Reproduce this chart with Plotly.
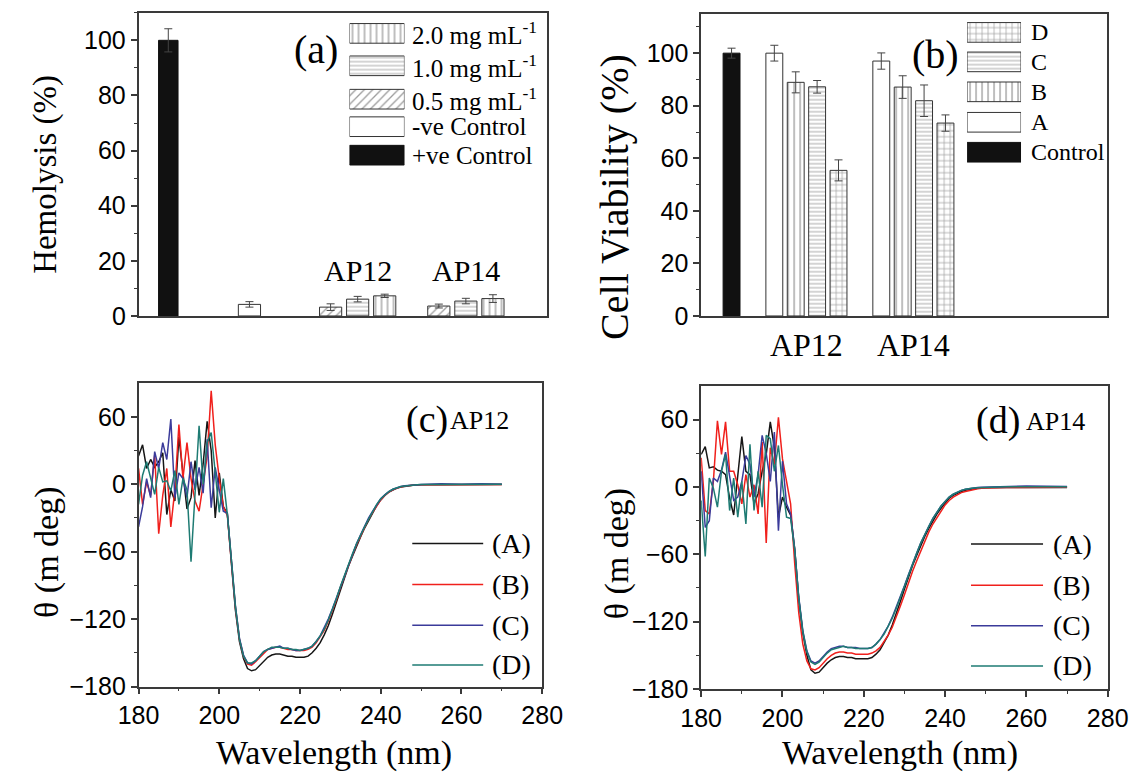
import plotly.graph_objects as go

W, H = 1148, 784
SERIF = "Liberation Serif"
SANS = "Liberation Sans"
AXC = "#3a3a3a"
EDGE = "#333333"

# ---------------- Panel (a): hemolysis ----------------
hemo_groups = ["AP12", "AP14"]
hemo_pos_ctrl = [100.0]
hemo_pos_ctrl_err = [4.2]
hemo_neg_ctrl = [4.2]
hemo_neg_ctrl_err = [1.0]
hemo_05 = [3.2, 3.6]
hemo_05_err = [1.2, 0.7]
hemo_10 = [6.1, 5.4]
hemo_10_err = [1.0, 1.0]
hemo_20 = [7.3, 6.3]
hemo_20_err = [0.6, 1.4]
hemo_legend = ["2.0 mg mL<sup>-1</sup>", "1.0 mg mL<sup>-1</sup>", "0.5 mg mL<sup>-1</sup>",
               "-ve Control", "+ve Control"]

# ---------------- Panel (b): cell viability ----------------
cell_groups = ["AP12", "AP14"]
cell_ctrl = [100.0]
cell_ctrl_err = [1.9]
cell_A = [100.0, 97.0]
cell_A_err = [3.0, 3.1]
cell_B = [88.9, 87.1]
cell_B_err = [4.0, 4.3]
cell_C = [87.2, 81.9]
cell_C_err = [2.4, 6.0]
cell_D = [55.4, 73.4]
cell_D_err = [4.0, 3.1]
cell_legend = ["D", "C", "B", "A", "Control"]

# ---------------- Panels (c), (d): CD spectra ----------------
cd_wl = list(range(180, 251)) + [255, 260, 265, 270]

ap12_A = [25, 35, 14, 22, 15, 20, 28, -27, -5, -15, 42, 10, -22, -12, 21, -10, 18, 56, 30, -30, 10, -20, -26,
          -70, -112, -140, -155, -164, -166, -165, -161, -157, -154, -152, -151, -151, -152, -153, -153,
          -154, -154, -154, -153, -150, -146, -141, -134, -126, -116, -105, -94, -83, -73, -64, -55,
          -47, -39, -32, -25, -19, -14, -10, -7, -5, -3.5, -2.5, -1.8, -1.2, -0.9, -0.7, -0.5,
          -0.4, -0.2, -0.3, -0.3]
ap12_B = [14, -18, 2, -10, 26, -44, -10, 14, -38, -5, 53, 5, 37, 5, -15, -24, 0, 25, 83, 35, 5, -20, -28,
          -68, -110, -138, -153, -160, -161, -158, -154, -150, -147, -146, -145, -145, -146, -147, -147,
          -148, -148, -148, -147, -145, -141, -136, -130, -122, -113, -103, -92, -82, -72, -63, -54,
          -46, -38, -31, -25, -19, -14, -10, -7, -5, -3.5, -2.4, -1.6, -1.1, -0.8, -0.5, -0.4,
          -0.3, 0.2, -0.1, -0.2]
ap12_C = [-38, -20, 5, -12, 29, 14, 37, 22, 58, -12, 10, 5, -12, 20, -5, 15, -8, 40, -21, 15, -5, -24, -26,
          -66, -108, -137, -152, -159, -160, -157, -153, -149, -147, -146, -145, -144, -146, -146, -147,
          -148, -148, -147, -146, -144, -140, -135, -128, -120, -111, -101, -91, -81, -71, -62, -53,
          -45, -37, -30, -24, -18, -13, -9.5, -6.5, -4.5, -3, -2, -1.4, -1, -0.6, -0.4, -0.3,
          0.4, -0.1, 0.3, 0.0]
ap12_D = [-18, 8, 20, 5, -9, 15, 2, 3, -6, 12, -18, 5, -5, -69, -10, 52, 0, 37, 46, 8, -25, 5, -27,
          -67, -109, -138, -153, -159, -159, -157, -153, -149, -147, -145, -145, -145, -146, -146, -147,
          -147, -148, -147, -146, -144, -140, -135, -129, -121, -112, -102, -91, -81, -71, -62, -53,
          -45, -38, -31, -24, -18, -13, -9.5, -6.5, -4.5, -3, -2, -1.5, -1, -0.7, -0.5, -0.3,
          -0.2, 0.1, -0.2, -0.1]

ap14_A = [29, 36, 17, 18, 15, 14, 11, -10, -25, 8, 45, 14, 11, -15, -6, 14, 29, 58, 35, -27, -9, -18, -25,
          -55, -100, -130, -150, -163, -166, -165, -161, -157, -154, -152, -151, -151, -152, -152, -153,
          -153, -153, -153, -152, -149, -145, -139, -132, -123, -113, -102, -91, -80, -70, -61, -52,
          -44, -37, -30, -24, -19, -14, -10, -7.5, -5.5, -4, -3, -2, -1.5, -1.1, -0.8, -0.6,
          -0.5, -0.6, -0.4, -0.5]
ap14_B = [26, -21, -24, 5, 59, 29, 58, 14, 14, 2, -15, 11, -9, 2, -24, 40, -50, 35, 20, 62, 25, 5, -15,
          -68, -112, -140, -155, -162, -163, -161, -157, -153, -150, -148, -147, -147, -148, -148, -149,
          -149, -149, -149, -148, -146, -143, -138, -132, -125, -116, -106, -96, -85, -75, -66, -57,
          -48, -40, -33, -27, -21, -16, -12, -9, -7, -5, -4, -3, -2.2, -1.6, -1.2, -0.9,
          -0.5, -0.3, -0.4, -0.3]
ap14_C = [14, -36, -30, 8, 5, 15, 31, 10, -12, -9, 5, 28, 20, -9, 11, 46, 30, 5, 49, -39, 23, -15, -24,
          -55, -98, -128, -146, -155, -157, -155, -151, -147, -144, -143, -142, -142, -143, -143, -143,
          -144, -144, -144, -143, -140, -136, -130, -124, -116, -107, -98, -88, -78, -68, -59, -50,
          -42, -35, -28, -22, -17, -13, -9, -6.5, -4.5, -3, -2, -1.3, -0.8, -0.5, -0.3, -0.2,
          0.5, 0.8, 0.6, 0.4]
ap14_D = [-12, -62, 8, -1, -18, 14, 29, -21, 8, -27, 5, -33, 38, -21, 14, -18, 46, 43, 14, 37, 2, -27, -28,
          -56, -99, -129, -147, -156, -158, -156, -152, -148, -145, -144, -143, -142, -143, -143, -144,
          -144, -144, -144, -143, -140, -136, -131, -124, -117, -108, -98, -88, -78, -68, -59, -50,
          -42, -35, -28, -22, -17, -13, -9, -6.5, -4.5, -3, -2, -1.3, -0.9, -0.6, -0.4, -0.3,
          0.2, 0.3, 0.1, 0.2]

cd_labels = ["(A)", "(B)", "(C)", "(D)"]
cd_colors = ["#161616", "#f0201c", "#3b3b9a", "#1e7b73"]

for s in (ap12_A, ap12_B, ap12_C, ap12_D, ap14_A, ap14_B, ap14_C, ap14_D):
    assert len(s) == len(cd_wl), len(s)

# ---------------- layout geometry (pixels) ----------------
def px(x):
    return x / W

def py(y):
    return 1 - y / H

PANEL = {
    "a": (122, 546, 13, 321.7),
    "b": (706, 1127, 14, 321.7),
    "c": (122, 541, 390, 699),
    "d": (706, 1128, 393, 701.5),
}

fig = go.Figure()

ERR = dict(type="data", visible=True, color="#444444", thickness=1, width=4)


def bar_marker(kind):
    base = dict(line=dict(color=EDGE, width=1))
    if kind == "solid":
        base["color"] = "#111111"
        base["line"] = dict(color="#111111", width=1)
    elif kind == "blank":
        base["color"] = "white"
    else:
        shp, size = {"diag": ("/", 6), "horiz": ("-", 4), "vert": ("|", 6), "grid": ("+", 6)}[kind]
        base["color"] = "white"
        base["pattern"] = dict(shape=shp, size=size, solidity=0.22, fgcolor="#3a3a3a",
                               bgcolor="white", fillmode="overlay")
    return base

# ---- (a) bars
a_ctrl_pos = [1]
a_neg_pos = [4]
a_group_centers = [8, 12]
a_offsets = [-1, 0, 1]
BW_A = 0.82
fig.add_trace(go.Bar(x=a_ctrl_pos, y=hemo_pos_ctrl, width=0.72, marker=bar_marker("solid"),
                     error_y=dict(ERR, array=hemo_pos_ctrl_err), xaxis="x", yaxis="y"))
fig.add_trace(go.Bar(x=a_neg_pos, y=hemo_neg_ctrl, width=BW_A, marker=bar_marker("blank"),
                     error_y=dict(ERR, array=hemo_neg_ctrl_err), xaxis="x", yaxis="y"))
for off, vals, errs, kind in zip(a_offsets, [hemo_05, hemo_10, hemo_20],
                                 [hemo_05_err, hemo_10_err, hemo_20_err], ["diag", "horiz", "vert"]):
    fig.add_trace(go.Bar(x=[c + off for c in a_group_centers], y=vals, width=BW_A,
                         marker=bar_marker(kind), error_y=dict(ERR, array=errs),
                         xaxis="x", yaxis="y"))

# ---- (b) bars
b_ctrl_pos = [1]
b_group_centers = [4.5, 9.5]
b_offsets = [-1.5, -0.5, 0.5, 1.5]
BW_B = 0.79
fig.add_trace(go.Bar(x=b_ctrl_pos, y=cell_ctrl, width=BW_B, marker=bar_marker("solid"),
                     error_y=dict(ERR, array=cell_ctrl_err), xaxis="x2", yaxis="y2"))
for off, vals, errs, kind in zip(b_offsets, [cell_A, cell_B, cell_C, cell_D],
                                 [cell_A_err, cell_B_err, cell_C_err, cell_D_err],
                                 ["blank", "vert", "horiz", "grid"]):
    fig.add_trace(go.Bar(x=[c + off for c in b_group_centers], y=vals, width=BW_B,
                         marker=bar_marker(kind), error_y=dict(ERR, array=errs),
                         xaxis="x2", yaxis="y2"))

# ---- (c), (d) lines
for series, xa, ya in (((ap12_A, ap12_B, ap12_C, ap12_D), "x3", "y3"),
                       ((ap14_A, ap14_B, ap14_C, ap14_D), "x4", "y4")):
    for vals, col in zip(series, cd_colors):
        fig.add_trace(go.Scatter(x=cd_wl, y=vals, mode="lines", line=dict(color=col, width=1.5),
                                 xaxis=xa, yaxis=ya))

# ---------------- custom legends (own small transparent axes) ----------------
LEG = {
    "a": dict(x0=341, x1=398, y0=20, y1=172, rows=[34, 67, 101, 129, 158], gap=6, size=25,
              names=hemo_legend, kinds=["vert", "horiz", "diag", "blank", "solid"]),
    "b": dict(x0=982, x1=1038, y0=19, y1=169, rows=[33, 63, 93.5, 124.5, 155], gap=8, size=24,
              names=cell_legend, kinds=["grid", "horiz", "vert", "blank", "solid"]),
    "c": dict(x0=406, x1=480, y0=535, y1=695, rows=[553.5, 595, 636.5, 677], gap=7, size=28,
              names=cd_labels, colors=cd_colors),
    "d": dict(x0=986, x1=1061, y0=535, y1=695, rows=[554, 596, 637, 678], gap=8, size=28,
              names=cd_labels, colors=cd_colors),
}

annotations = []
for i, key in enumerate(["a", "b", "c", "d"]):
    n = 5 + i
    xa, ya = f"x{n}", f"y{n}"
    L = LEG[key]
    fig.update_layout({f"xaxis{n}": dict(domain=[px(L["x0"]), px(L["x1"])], range=[0, 1],
                                         visible=False, fixedrange=True, anchor=ya),
                       f"yaxis{n}": dict(domain=[py(L["y1"]), py(L["y0"])], range=[L["y1"], L["y0"]],
                                         visible=False, fixedrange=True, anchor=xa)})
    if "kinds" in L:
        for row, kind in zip(L["rows"], L["kinds"]):
            fig.add_trace(go.Bar(x=[1], y=[row], orientation="h", width=20, marker=bar_marker(kind),
                                 xaxis=xa, yaxis=ya, cliponaxis=False))
    else:
        for row, col in zip(L["rows"], L["colors"]):
            fig.add_trace(go.Scatter(x=[0, 1], y=[row, row], mode="lines",
                                     line=dict(color=col, width=1.5), xaxis=xa, yaxis=ya))
    for row, name in zip(L["rows"], L["names"]):
        annotations.append(dict(x=1, y=row, xref=xa, yref=ya, text=name, showarrow=False,
                                xanchor="left", yanchor="middle", xshift=L["gap"],
                                font=dict(family=SERIF, size=L["size"], color="black")))

# ---------------- main axes ----------------
def xdom(k):
    return [px(PANEL[k][0]), px(PANEL[k][1])]

def ydom(k):
    return [py(PANEL[k][3]), py(PANEL[k][2])]

line_kw = dict(showline=True, linecolor=AXC, linewidth=1.5, mirror=True, showgrid=False,
               zeroline=False, fixedrange=True)
tick_font = dict(family=SANS, size=25, color="black")

yticks_bar = dict(tickmode="array", tickvals=[0, 20, 40, 60, 80, 100], ticks="outside", ticklen=6,
                  tickwidth=1.5, tickcolor=AXC, tickfont=tick_font,
                  minor=dict(tickmode="array", tickvals=[10, 30, 50, 70, 90, 110], ticks="outside",
                             ticklen=3, tickwidth=1, tickcolor=AXC))

fig.update_layout(
    xaxis=dict(domain=xdom("a"), range=[-0.1, 15.0], showticklabels=False, ticks="", anchor="y", **line_kw),
    yaxis=dict(domain=ydom("a"), range=[0, 110], anchor="x", **yticks_bar, **line_kw),
    xaxis2=dict(domain=xdom("b"), range=[-0.42, 18.54], tickmode="array", tickvals=b_group_centers,
                ticktext=cell_groups, ticks="", tickfont=dict(family=SERIF, size=32, color="black"),
                anchor="y2", **line_kw),
    yaxis2=dict(domain=ydom("b"), range=[0, 115], anchor="x2", **yticks_bar, **line_kw),
)

cd_x = dict(range=[180, 280], tickmode="array", tickvals=[180, 200, 220, 240, 260, 280], ticks="outside",
            ticklen=6, tickwidth=1.5, tickcolor=AXC, tickfont=tick_font,
            minor=dict(tickmode="array", tickvals=[190, 210, 230, 250, 270], ticks="outside",
                       ticklen=3, tickwidth=1, tickcolor=AXC))
cd_y = dict(range=[-180, 90], tickmode="array", tickvals=[-180, -120, -60, 0, 60], ticks="outside",
            ticklen=6, tickwidth=1.5, tickcolor=AXC, tickfont=tick_font,
            minor=dict(tickmode="array", tickvals=[-150, -90, -30, 30], ticks="outside",
                       ticklen=3, tickwidth=1, tickcolor=AXC))
fig.update_layout(
    xaxis3=dict(domain=xdom("c"), anchor="y3", **cd_x, **line_kw),
    yaxis3=dict(domain=ydom("c"), anchor="x3", **cd_y, **line_kw),
    xaxis4=dict(domain=xdom("d"), anchor="y4", **cd_x, **line_kw),
    yaxis4=dict(domain=ydom("d"), anchor="x4", **cd_y, **line_kw),
)

# ---------------- text annotations ----------------
def ptext(x, y, text, size, angle=0, family=SERIF, xanchor="center"):
    annotations.append(dict(x=px(x), y=py(y), xref="paper", yref="paper", text=text, showarrow=False,
                            textangle=angle, xanchor=xanchor, yanchor="middle",
                            font=dict(family=family, size=size, color="black")))

ptext(26, 178, "Hemolysis (%)", 33, -90)
ptext(616, 200, "Cell Viability (%)", 40, -90)
ptext(27, 563, "θ (m deg)", 34, -90)
ptext(619, 564, "θ (m deg)", 34, -90)
ptext(325, 767, "Wavelength (nm)", 34)
ptext(912, 767, "Wavelength (nm)", 34)
ptext(306, 50, "(a)", 40)
ptext(949, 55, "(b)", 40)
ptext(421, 427, "(c)", 38)
ptext(476, 428, "AP12", 26)
ptext(1014, 428, "(d)", 38)
ptext(1074, 429, "AP14", 26)

for c, g in zip(a_group_centers, hemo_groups):
    annotations.append(dict(x=c, y=16.5, xref="x", yref="y", text=g, showarrow=False,
                            xanchor="center", yanchor="middle",
                            font=dict(family=SERIF, size=30, color="black")))

fig.update_layout(
    width=W, height=H, margin=dict(l=0, r=0, t=0, b=0), autosize=False,
    paper_bgcolor="white", plot_bgcolor="rgba(0,0,0,0)", showlegend=False,
    barmode="overlay", annotations=annotations,
)

fig.write_html("out.html")
